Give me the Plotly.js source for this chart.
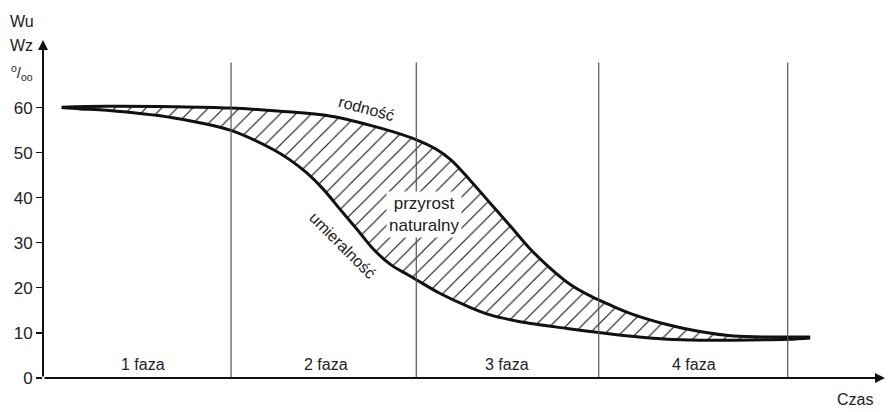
<!DOCTYPE html>
<html>
<head>
<meta charset="utf-8">
<script src="https://cdn.plot.ly/plotly-3.0.1.min.js"></script>
<style>html,body{margin:0;padding:0;background:#fff;}#chart{width:889px;height:412px;}</style>
</head>
<body>
<div id="chart"></div>
<script>
// Time in arbitrary units (1 unit = one phase width)
const birthX = [0.10, 0.34, 0.70, 1.00, 1.27, 1.54, 1.80, 2.00, 2.10, 2.18, 2.28, 2.39, 2.50, 2.60, 2.71, 2.82, 2.93, 3.03, 3.16, 3.34, 3.51, 3.69, 3.98, 4.10];
const birthY = [60.1, 60.3, 60.2, 59.9, 59.2, 58.1, 55.5, 52.8, 50.8, 48.4, 44.0, 38.8, 33.6, 28.8, 24.4, 20.7, 18.1, 16.2, 14.0, 11.8, 10.3, 9.3, 9.1, 9.1];
const deathX = [0.10, 0.20, 0.34, 0.70, 1.00, 1.23, 1.32, 1.41, 1.50, 1.59, 1.68, 1.77, 1.86, 1.95, 2.00, 2.12, 2.27, 2.39, 2.55, 2.80, 2.97, 3.16, 3.34, 3.51, 3.69, 3.98, 4.10];
const deathY = [60.0, 59.7, 59.4, 57.7, 55.0, 50.7, 48.4, 45.5, 41.8, 37.3, 32.9, 28.4, 25.1, 22.9, 21.7, 18.8, 15.9, 14.0, 12.5, 11.0, 10.1, 9.2, 8.6, 8.4, 8.4, 8.6, 8.9];
const phaseBounds = [1.005, 1.995, 2.97, 3.98];
const phaseLabels = ['1 faza', '2 faza', '3 faza', '4 faza'];
const phaseLabelX = [0.535, 1.51, 2.48, 3.48];
const yTicks = [0, 10, 20, 30, 40, 50, 60];

const FONT = 'Liberation Sans, Arial, sans-serif';
const TXT = '#222';

const traces = [
  {x: deathX, y: deathY, mode: 'lines', line: {color: '#111', width: 3, shape: 'spline', smoothing: 1}, hoverinfo: 'skip'},
  {x: birthX, y: birthY, mode: 'lines', fill: 'tonexty', fillcolor: 'white',
   fillpattern: {shape: '/', size: 11, solidity: 0.1, fgcolor: '#111', bgcolor: 'white', fillmode: 'replace'},
   line: {color: '#111', width: 3, shape: 'spline', smoothing: 1}, hoverinfo: 'skip'}
];

const shapes = phaseBounds.map(b => ({type: 'line', xref: 'x', yref: 'y', x0: b, x1: b, y0: 0, y1: 70, line: {color: '#555', width: 1.2}, layer: 'above'}));

const annotations = [];
// axis arrows
annotations.push({x: 0, y: 75, ax: 0, ay: 0, xref: 'x', yref: 'y', axref: 'x', ayref: 'y', text: '', showarrow: true, arrowhead: 2, arrowsize: 1, arrowwidth: 2, arrowcolor: '#111', standoff: 0, startstandoff: 0});
annotations.push({x: 4.5, y: 0, ax: 0, ay: 0, xref: 'x', yref: 'y', axref: 'x', ayref: 'y', text: '', showarrow: true, arrowhead: 2, arrowsize: 1, arrowwidth: 2, arrowcolor: '#111', standoff: 0, startstandoff: 0});
phaseLabels.forEach((t, i) => annotations.push({x: phaseLabelX[i], y: 2.9, xref: 'x', yref: 'y', xanchor: 'center', yanchor: 'middle', text: t, showarrow: false, font: {family: FONT, size: 16, color: TXT}}));
annotations.push({x: 1.727, y: 59.8, xref: 'x', yref: 'y', xanchor: 'center', yanchor: 'middle', text: 'rodność', textangle: 15, showarrow: false, font: {family: FONT, size: 16, color: TXT}});
annotations.push({x: 1.60, y: 29.3, xref: 'x', yref: 'y', xanchor: 'center', yanchor: 'middle', text: 'umieralność', textangle: 45, showarrow: false, font: {family: FONT, size: 16, color: TXT}});
annotations.push({x: 2.037, y: 36.2, xref: 'x', yref: 'y', xanchor: 'center', yanchor: 'middle', text: 'przyrost<br>naturalny', showarrow: false, bgcolor: 'white', borderpad: 2, font: {family: FONT, size: 17, color: TXT}});
annotations.push({x: -0.025, y: 1.054, xref: 'paper', yref: 'paper', xanchor: 'center', yanchor: 'middle', text: 'Wu', showarrow: false, font: {family: FONT, size: 16, color: TXT}});
annotations.push({x: -0.025, y: 0.985, xref: 'paper', yref: 'paper', xanchor: 'center', yanchor: 'middle', text: 'Wz', showarrow: false, font: {family: FONT, size: 16, color: TXT}});
annotations.push({x: -0.025, y: 0.905, xref: 'paper', yref: 'paper', xanchor: 'center', yanchor: 'middle', text: '<sup>o</sup>/<sub>oo</sub>', showarrow: false, font: {family: FONT, size: 15, color: TXT}});
annotations.push({x: 0.964, y: -0.065, xref: 'paper', yref: 'paper', xanchor: 'center', yanchor: 'middle', text: 'Czas', showarrow: false, font: {family: FONT, size: 16, color: TXT}});

const layout = {
  width: 889, height: 412,
  margin: {l: 43, r: 4, t: 40, b: 34},
  paper_bgcolor: 'white', plot_bgcolor: 'white',
  showlegend: false,
  xaxis: {range: [0, 4.5], showgrid: false, zeroline: false, showline: false, showticklabels: false, ticks: '', fixedrange: true},
  yaxis: {range: [0, 75], showgrid: false, zeroline: false, showline: false, tickmode: 'array', tickvals: yTicks, ticktext: yTicks.map(String),
          ticks: 'outside', ticklen: 6, tickwidth: 1.2, tickcolor: '#111', tickfont: {family: FONT, size: 17, color: TXT}, fixedrange: true},
  shapes: shapes,
  annotations: annotations
};

Plotly.newPlot('chart', traces, layout, {displayModeBar: false, staticPlot: true});
</script>
</body>
</html>
